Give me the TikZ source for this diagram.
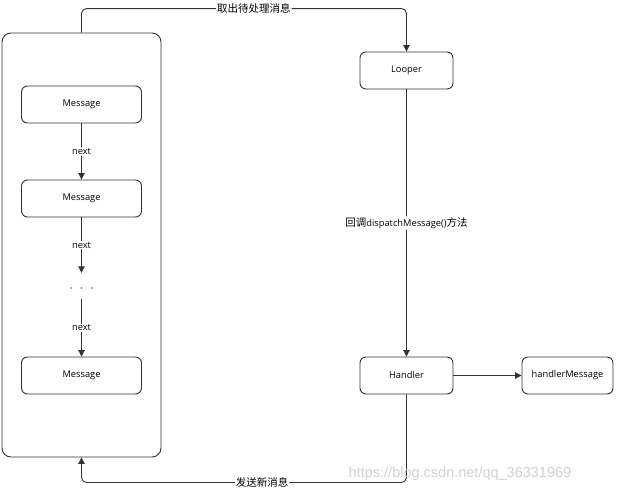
\documentclass[tikz,border=0pt]{standalone}
\usepackage{fontspec}
\setmainfont{Open Sans}
\newfontfamily\cjk{Noto Sans CJK SC}
\newfontfamily\wmfont{Liberation Sans}
\usetikzlibrary{arrows.meta}
\definecolor{linec}{HTML}{333333}
\definecolor{dotc}{RGB}{120,150,180}
\begin{document}
\begin{tikzpicture}[x=1pt,y=-1pt,
  txt/.style={font=\fontsize{9.3}{11}\selectfont},
  box/.style={draw=linec, line width=0.9pt, rounded corners=6pt, minimum width=120pt, minimum height=37pt, inner sep=0pt, txt},
  conn/.style={draw=linec, line width=0.9pt, rounded corners=5pt, -{Triangle[width=6.5pt,length=6.5pt]}},
  plain/.style={draw=linec, line width=0.9pt},
  lbl/.style={fill=white, inner sep=1pt, txt},
  clbl/.style={fill=white, inner sep=1pt, font=\fontsize{10.5}{12}\selectfont\cjk}
]
\useasboundingbox (0,0) rectangle (619,493);
\fill[white] (0,0) rectangle (619,493);
% container
\node[draw=linec, line width=0.9pt, rounded corners=9pt, minimum width=159pt, minimum height=424pt, inner sep=0pt] (queue) at (81.5,245) {};
\node[box] (m1) at (81.5,104.5) {Message};
\node[box] (m2) at (81.5,198.5) {Message};
\node[minimum width=30pt, minimum height=26pt, inner sep=0pt] (dots) at (81.5,286) {};
\fill[dotc] (dots.center) ++(-10.5,2) circle (1.1pt);
\fill[dotc] (dots.center) ++(0,2) circle (1.1pt);
\fill[dotc] (dots.center) ++(10.5,2) circle (1.1pt);
\node[box] (m3) at (81.5,375.5) {Message};
\node[box, minimum width=93pt] (looper) at (406.5,70.5) {Looper};
\node[box, minimum width=93pt] (handler) at (406.5,375.5) {Handler};
\node[box, minimum width=91pt] (hm) at (567.5,375.5) {handlerMessage};
% connectors
\draw[conn] (m1.south) -- node[lbl]{next} (m2.north);
\draw[conn] (m2.south) -- node[lbl]{next} (dots.north);
\draw[conn] (dots.south) -- node[lbl]{next} (m3.north);
\draw[conn] (queue.north) -- ++(0,-24) -| node[clbl, pos=0.265]{取出待处理消息} (looper.north);
\draw[conn] (looper.south) -- node[fill=white, inner sep=1pt, font=\fontsize{10.5}{12}\selectfont]{{\cjk 回调}{\fontsize{9.3}{11}\selectfont dispatchMessage()}{\cjk 方法}} (handler.north);
\draw[conn] (handler.east) -- (hm.west);
\draw[conn] (handler.south) -- ++(0,88) -| node[clbl, pos=0.222]{发送新消息} (queue.south);
% watermark
\node[font=\fontsize{14.5}{16}\selectfont\wmfont, text=black!18, inner sep=0pt] (wm) at (460,474) {https://blog.csdn.net/qq\_36331969};
\end{tikzpicture}
\end{document}
